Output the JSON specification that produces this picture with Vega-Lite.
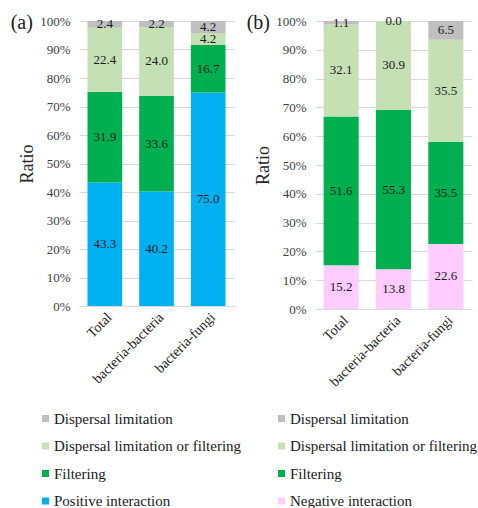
{
  "$schema": "https://vega.github.io/schema/vega-lite/v6.json",
  "background": "white",
  "padding": {"left": 10, "top": 13, "right": 0, "bottom": 0},
  "config": {
    "view": {"stroke": null},
    "font": "Liberation Serif",
    "axis": {
      "labelFont": "Liberation Serif",
      "titleFont": "Liberation Serif",
      "labelColor": "#404040",
      "titleColor": "#262626",
      "gridColor": "#d9d9d9",
      "domainColor": "#d9d9d9"
    },
    "axisY": {
      "title": "Ratio",
      "titleFontSize": 18,
      "titleFontWeight": "normal",
      "titlePadding": 3,
      "labelOverlap": false,
      "ticks": false,
      "domain": false,
      "labelFontSize": 13,
      "labelPadding": 9
    },
    "title": {"font": "Liberation Serif", "fontWeight": "normal", "color": "#1a1a1a"}
  },
  "data": {
    "values": [
      {"panel": "a", "group": "Total", "type": "Positive interaction", "v": 43.3},
      {"panel": "a", "group": "Total", "type": "Filtering", "v": 31.9},
      {"panel": "a", "group": "Total", "type": "Dispersal limitation or filtering", "v": 22.4},
      {"panel": "a", "group": "Total", "type": "Dispersal limitation", "v": 2.4},
      {"panel": "a", "group": "bacteria-bacteria", "type": "Positive interaction", "v": 40.2},
      {"panel": "a", "group": "bacteria-bacteria", "type": "Filtering", "v": 33.6},
      {"panel": "a", "group": "bacteria-bacteria", "type": "Dispersal limitation or filtering", "v": 24.0},
      {"panel": "a", "group": "bacteria-bacteria", "type": "Dispersal limitation", "v": 2.2},
      {"panel": "a", "group": "bacteria-fungi", "type": "Positive interaction", "v": 75.0},
      {"panel": "a", "group": "bacteria-fungi", "type": "Filtering", "v": 16.7},
      {"panel": "a", "group": "bacteria-fungi", "type": "Dispersal limitation or filtering", "v": 4.2},
      {"panel": "a", "group": "bacteria-fungi", "type": "Dispersal limitation", "v": 4.2},
      {"panel": "b", "group": "Total", "type": "Negative interaction", "v": 15.2},
      {"panel": "b", "group": "Total", "type": "Filtering", "v": 51.6},
      {"panel": "b", "group": "Total", "type": "Dispersal limitation or filtering", "v": 32.1},
      {"panel": "b", "group": "Total", "type": "Dispersal limitation", "v": 1.1},
      {"panel": "b", "group": "bacteria-bacteria", "type": "Negative interaction", "v": 13.8},
      {"panel": "b", "group": "bacteria-bacteria", "type": "Filtering", "v": 55.3},
      {"panel": "b", "group": "bacteria-bacteria", "type": "Dispersal limitation or filtering", "v": 30.9},
      {"panel": "b", "group": "bacteria-bacteria", "type": "Dispersal limitation", "v": 0.0},
      {"panel": "b", "group": "bacteria-fungi", "type": "Negative interaction", "v": 22.6},
      {"panel": "b", "group": "bacteria-fungi", "type": "Filtering", "v": 35.5},
      {"panel": "b", "group": "bacteria-fungi", "type": "Dispersal limitation or filtering", "v": 35.5},
      {"panel": "b", "group": "bacteria-fungi", "type": "Dispersal limitation", "v": 6.5}
    ]
  },
  "spacing": 4,
  "resolve": {"scale": {"color": "independent"}},
  "hconcat": [
    {
      "title": {"text": "(a)", "anchor": "start", "frame": "bounds", "fontSize": 20, "offset": -18, "dx": -8},
      "width": 155,
      "height": 285,
      "transform": [
        {"filter": "datum.panel === 'a'"},
        {"stack": "v", "groupby": ["group"], "sort": [{"field": "type", "order": "descending"}], "offset": "normalize", "as": ["lo", "hi"]},
        {"calculate": "(datum.lo + datum.hi) / 2", "as": "mid"}
      ],
      "encoding": {
        "x": {
          "field": "group", "type": "nominal",
          "sort": ["Total", "bacteria-bacteria", "bacteria-fungi"],
          "scale": {"paddingInner": 0.33, "paddingOuter": 0.165},
          "axis": {"title": null, "labelAngle": -45, "ticks": false, "labelFontSize": 14, "labelPadding": 4, "labelColor": "#1a1a1a"}
        }
      },
      "layer": [
        {
          "mark": "bar",
          "encoding": {
            "y": {
              "field": "lo", "type": "quantitative",
              "scale": {"domain": [0, 1]},
              "axis": {"title": "Ratio", "format": "%", "values": [0, 0.1, 0.2, 0.3, 0.4, 0.5, 0.6, 0.7, 0.8, 0.9, 1]}
            },
            "y2": {"field": "hi"},
            "color": {
              "field": "type", "type": "nominal",
              "scale": {
                "domain": ["Dispersal limitation", "Dispersal limitation or filtering", "Filtering", "Positive interaction"],
                "range": ["#bfbfbf", "#c5e0b4", "#00b050", "#00b0f0"]
              },
              "legend": {"orient": "none", "legendX": -41, "legendY": 390, "title": null, "direction": "vertical", "symbolType": "square", "symbolSize": 49, "symbolStrokeWidth": 0, "labelFont": "Liberation Serif", "labelFontSize": 15, "labelColor": "#1a1a1a", "labelOffset": 1, "rowPadding": 11.5, "labelLimit": 400}
            }
          }
        },
        {
          "mark": {"type": "text", "font": "Liberation Serif", "fontSize": 13, "color": "#1a1a1a"},
          "encoding": {
            "y": {
              "field": "mid", "type": "quantitative",
              "axis": {"title": "Ratio", "format": "%", "values": [0, 0.1, 0.2, 0.3, 0.4, 0.5, 0.6, 0.7, 0.8, 0.9, 1]}
            },
            "text": {"field": "v", "type": "quantitative", "format": ".1f"}
          }
        }
      ]
    },
    {
      "title": {"text": "(b)", "anchor": "start", "frame": "bounds", "fontSize": 20, "offset": -18, "dx": -8},
      "width": 157,
      "height": 288,
      "transform": [
        {"filter": "datum.panel === 'b'"},
        {"stack": "v", "groupby": ["group"], "sort": [{"field": "type", "order": "descending"}], "offset": "normalize", "as": ["lo", "hi"]},
        {"calculate": "(datum.lo + datum.hi) / 2", "as": "mid"}
      ],
      "encoding": {
        "x": {
          "field": "group", "type": "nominal",
          "sort": ["Total", "bacteria-bacteria", "bacteria-fungi"],
          "scale": {"paddingInner": 0.33, "paddingOuter": 0.165},
          "axis": {"title": null, "labelAngle": -45, "ticks": false, "labelFontSize": 14, "labelPadding": 4, "labelColor": "#1a1a1a"}
        }
      },
      "layer": [
        {
          "mark": "bar",
          "encoding": {
            "y": {
              "field": "lo", "type": "quantitative",
              "scale": {"domain": [0, 1]},
              "axis": {"title": "Ratio", "format": "%", "values": [0, 0.1, 0.2, 0.3, 0.4, 0.5, 0.6, 0.7, 0.8, 0.9, 1]}
            },
            "y2": {"field": "hi"},
            "color": {
              "field": "type", "type": "nominal",
              "scale": {
                "domain": ["Dispersal limitation", "Dispersal limitation or filtering", "Filtering", "Negative interaction"],
                "range": ["#bfbfbf", "#c5e0b4", "#00b050", "#ffccff"]
              },
              "legend": {"orient": "none", "legendX": -41, "legendY": 390, "title": null, "direction": "vertical", "symbolType": "square", "symbolSize": 49, "symbolStrokeWidth": 0, "labelFont": "Liberation Serif", "labelFontSize": 15, "labelColor": "#1a1a1a", "labelOffset": 1, "rowPadding": 11.5, "labelLimit": 400}
            }
          }
        },
        {
          "mark": {"type": "text", "font": "Liberation Serif", "fontSize": 13, "color": "#1a1a1a"},
          "encoding": {
            "y": {
              "field": "mid", "type": "quantitative",
              "axis": {"title": "Ratio", "format": "%", "values": [0, 0.1, 0.2, 0.3, 0.4, 0.5, 0.6, 0.7, 0.8, 0.9, 1]}
            },
            "text": {"field": "v", "type": "quantitative", "format": ".1f"}
          }
        }
      ]
    }
  ]
}
